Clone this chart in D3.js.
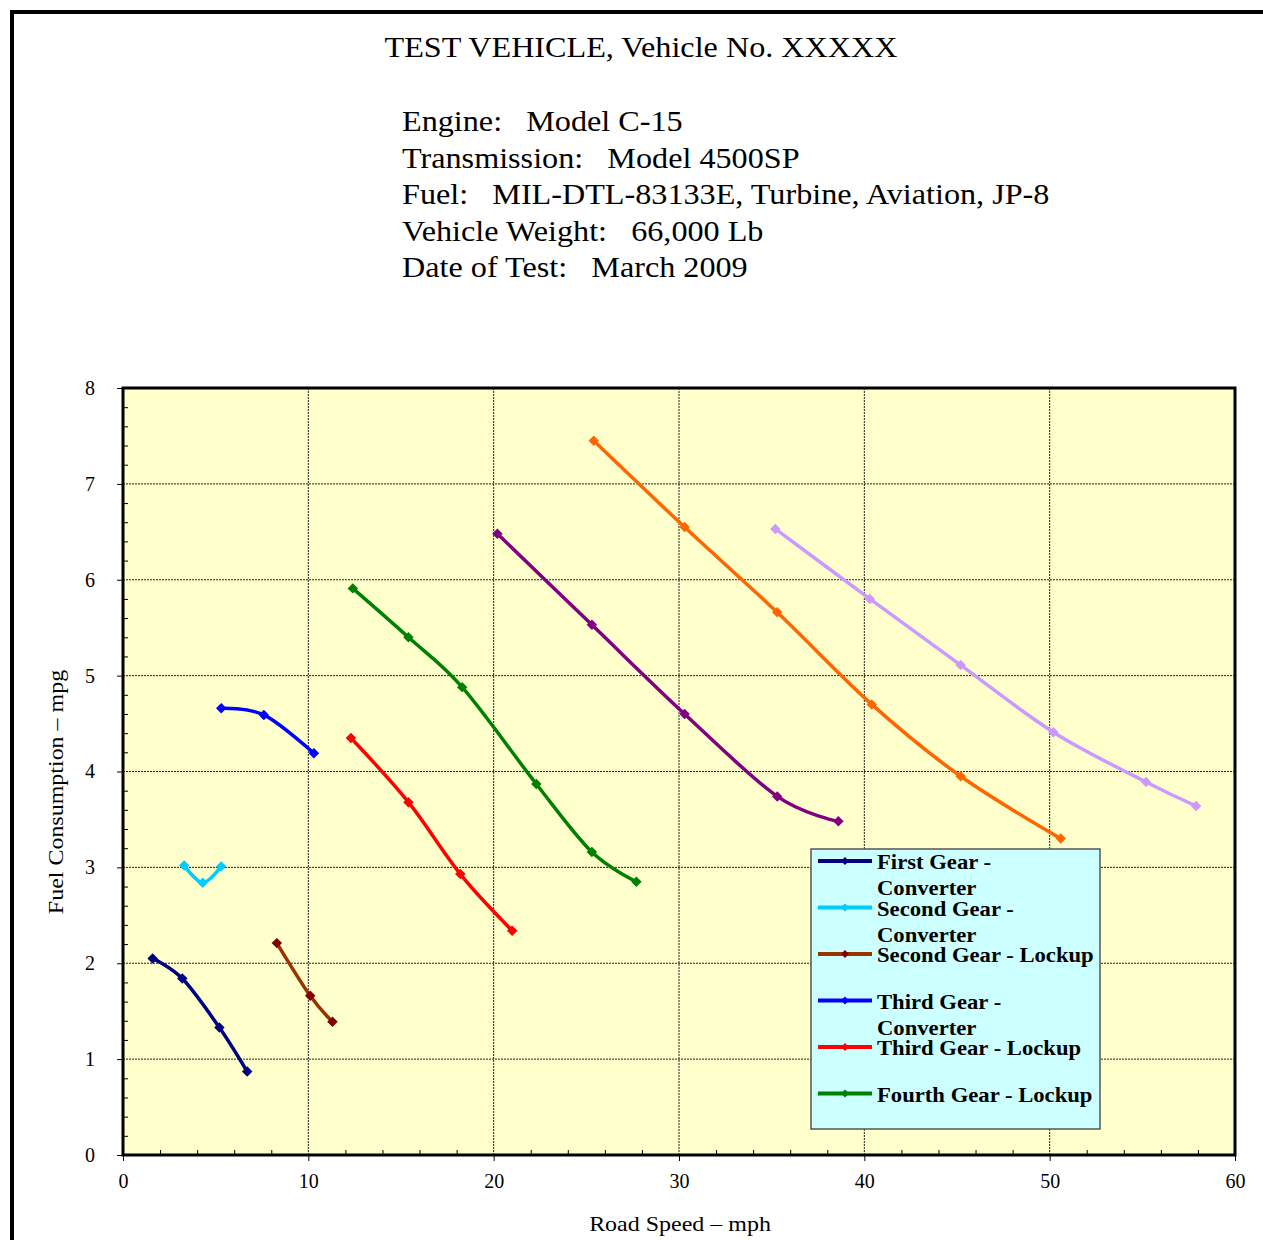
<!DOCTYPE html>
<html>
<head>
<meta charset="utf-8">
<script src="https://cdnjs.cloudflare.com/ajax/libs/d3/7.8.5/d3.min.js"></script>
<style>
  body { margin: 0; background: #fff; }
  svg { display: block; font-family: "Liberation Serif", "Times New Roman", serif; }
  .pre { white-space: pre; }
</style>
</head>
<body>
<svg id="chart" width="1263" height="1240"></svg>
<script>
// chart text
const titleText = "TEST VEHICLE, Vehicle No. XXXXX";
const infoLines = [
  "Engine:   Model C-15",
  "Transmission:   Model 4500SP",
  "Fuel:   MIL-DTL-83133E, Turbine, Aviation, JP-8",
  "Vehicle Weight:   66,000 Lb",
  "Date of Test:   March 2009"
];
const xTicks = [0, 10, 20, 30, 40, 50, 60];
const yTicks = [0, 1, 2, 3, 4, 5, 6, 7, 8];

// series, road speed (mph) / fuel consumption (mpg)
const firstConvX = [1.6, 3.2, 5.2, 6.7];
const firstConvY = [2.05, 1.84, 1.33, 0.87];
const secondConvX = [3.3, 4.3, 5.3];
const secondConvY = [3.02, 2.84, 3.01];
const secondLockX = [8.3, 10.1, 11.3];
const secondLockY = [2.21, 1.66, 1.39];
const thirdConvX = [5.3, 7.6, 10.3];
const thirdConvY = [4.66, 4.59, 4.19];
const thirdLockX = [12.3, 15.4, 18.2, 21.0];
const thirdLockY = [4.35, 3.68, 2.93, 2.34];
const fourthLockX = [12.4, 15.4, 18.3, 22.3, 25.3, 27.7];
const fourthLockY = [5.91, 5.40, 4.88, 3.87, 3.16, 2.85];
const fifthLockX = [20.2, 25.3, 30.3, 35.3, 38.6];
const fifthLockY = [6.48, 5.53, 4.60, 3.74, 3.48];
const sixthLockX = [25.4, 30.3, 35.3, 40.4, 45.2, 50.6];
const sixthLockY = [7.45, 6.55, 5.66, 4.70, 3.95, 3.30];
const seventhLockX = [35.2, 40.3, 45.2, 50.2, 55.2, 57.9];
const seventhLockY = [6.53, 5.80, 5.11, 4.41, 3.89, 3.64];

const series = [
  { name: ["First Gear -", "Converter"], xs: firstConvX, ys: firstConvY, line: "#000080", mark: "#000080", legend: true },
  { name: ["Second Gear -", "Converter"], xs: secondConvX, ys: secondConvY, line: "#00CCFF", mark: "#00CCFF", legend: true },
  { name: ["Second Gear - Lockup"], xs: secondLockX, ys: secondLockY, line: "#993300", mark: "#800000", legend: true },
  { name: ["Third Gear -", "Converter"], xs: thirdConvX, ys: thirdConvY, line: "#0000FF", mark: "#0000FF", legend: true },
  { name: ["Third Gear - Lockup"], xs: thirdLockX, ys: thirdLockY, line: "#FF0000", mark: "#FF0000", legend: true },
  { name: ["Fourth Gear - Lockup"], xs: fourthLockX, ys: fourthLockY, line: "#008000", mark: "#008000", legend: true },
  { name: ["Fifth Gear - Lockup"], xs: fifthLockX, ys: fifthLockY, line: "#800080", mark: "#800080", legend: false },
  { name: ["Sixth Gear - Lockup"], xs: sixthLockX, ys: sixthLockY, line: "#FF6600", mark: "#FF6600", legend: false },
  { name: ["Seventh Gear - Lockup"], xs: seventhLockX, ys: seventhLockY, line: "#CC99FF", mark: "#CC99FF", legend: false }
];

const svg = d3.select("#chart");
const margin = { top: 388, right: 28, bottom: 85, left: 123 };
const width = 1263, height = 1240;

// the original uses a slightly wide serif, so stretch text horizontally
function wideText(parent, tx, ty, str, size, sx, anchor, rot) {
  return parent.append("text")
    .attr("class", "pre")
    .attr("transform", `translate(${tx},${ty})${rot ? " rotate(" + rot + ")" : ""} scale(${sx},1)`)
    .attr("text-anchor", anchor || "start")
    .style("font-size", size + "px")
    .text(str);
}

// page frame
svg.append("path")
  .attr("d", "M12,1240 V12 H1263")
  .attr("fill", "none")
  .attr("stroke", "#000")
  .attr("stroke-width", 4);

wideText(svg, 641, 57, titleText, 29, 1.11, "middle");
infoLines.forEach((d, i) => wideText(svg, 402, 131 + i * 36.5, d, 29, 1.11));

const x = d3.scaleLinear().domain([0, 60]).range([margin.left, width - margin.right]);
const y = d3.scaleLinear().domain([0, 8]).range([height - margin.bottom, margin.top]);

// plot area
svg.append("rect")
  .attr("x", x(0)).attr("y", y(8))
  .attr("width", x(60) - x(0)).attr("height", y(0) - y(8))
  .attr("fill", "#FFFFCC");

// grid
const grid = svg.append("g").attr("stroke", "#222").attr("stroke-width", 1).attr("stroke-dasharray", "2,1");
grid.selectAll(".gx").data(xTicks.slice(1, -1)).join("line")
  .attr("x1", d => x(d)).attr("x2", d => x(d))
  .attr("y1", y(8)).attr("y2", y(0));
grid.selectAll(".gy").data(yTicks.slice(1, -1)).join("line")
  .attr("x1", x(0)).attr("x2", x(60))
  .attr("y1", d => y(d)).attr("y2", d => y(d));

// minor ticks (inside)
const minorX = d3.range(2, 60, 2).filter(d => d % 10 !== 0);
const minorY = d3.range(0.2, 8, 0.2).filter(d => Math.abs(d - Math.round(d)) > 0.01);
svg.append("g").attr("transform", `translate(0,${y(0)})`)
  .call(d3.axisTop(x).tickValues(minorX).tickSize(5).tickFormat(""))
  .call(g => g.select(".domain").remove());
svg.append("g").attr("transform", `translate(${x(0)},0)`)
  .call(d3.axisRight(y).tickValues(minorY).tickSize(5).tickFormat(""))
  .call(g => g.select(".domain").remove());

// major axes
svg.append("g").attr("transform", `translate(0,${y(0)})`)
  .call(d3.axisBottom(x).tickValues(xTicks).tickSize(6).tickPadding(13).tickFormat(d3.format("d")))
  .call(g => g.select(".domain").remove())
  .call(g => g.selectAll("text").attr("fill", "#000").style("font-size", "20px").style("font-family", "Liberation Serif"));
svg.append("g").attr("transform", `translate(${x(0)},0)`)
  .call(d3.axisLeft(y).tickValues(yTicks).tickSize(6).tickPadding(22).tickFormat(d3.format("d")))
  .call(g => g.select(".domain").remove())
  .call(g => g.selectAll("text").attr("fill", "#000").style("font-size", "20px").style("font-family", "Liberation Serif"));

// plot border
svg.append("rect")
  .attr("x", x(0)).attr("y", y(8))
  .attr("width", x(60) - x(0)).attr("height", y(0) - y(8))
  .attr("fill", "none").attr("stroke", "#000").attr("stroke-width", 3);

// axis titles
wideText(svg, 680, 1231, "Road Speed \u2013 mph", 22, 1.09, "middle");
wideText(svg, 63, 792, "Fuel Consumption \u2013 mpg", 22, 1.09, "middle", -90);

// series
const line = d3.line().x(d => x(d[0])).y(d => y(d[1])).curve(d3.curveCatmullRom.alpha(0));
const diamond = d3.symbol().type(d3.symbolDiamond2).size(70);

series.forEach(s => {
  const pts = s.xs.map((v, i) => [v, s.ys[i]]);
  svg.append("path")
    .datum(pts)
    .attr("d", line)
    .attr("fill", "none")
    .attr("stroke", s.line)
    .attr("stroke-width", 3.5);
  svg.append("g").selectAll("path")
    .data(pts)
    .join("path")
    .attr("transform", d => `translate(${x(d[0])},${y(d[1])})`)
    .attr("d", diamond)
    .attr("fill", s.mark);
});

// legend
const legend = svg.append("g").attr("transform", "translate(811,849)");
legend.append("rect")
  .attr("width", 289).attr("height", 280)
  .attr("fill", "#CCFFFF")
  .attr("stroke", "#555").attr("stroke-width", 1.5);

const items = legend.selectAll(".item")
  .data(series.filter(s => s.legend))
  .join("g")
  .attr("transform", (d, i) => `translate(0,${12 + i * 46.5})`);
items.append("line")
  .attr("x1", 7).attr("x2", 61)
  .attr("stroke", d => d.line).attr("stroke-width", 4);
items.append("path")
  .attr("transform", "translate(34,0)")
  .attr("d", d3.symbol().type(d3.symbolDiamond2).size(40))
  .attr("fill", d => d.mark);
items.each(function (d) {
  const g = d3.select(this);
  d.name.forEach((t, i) => {
    wideText(g, 66, 8 + i * 26, t, 22, 1.03).style("font-weight", "bold");
  });
});
</script>
</body>
</html>
